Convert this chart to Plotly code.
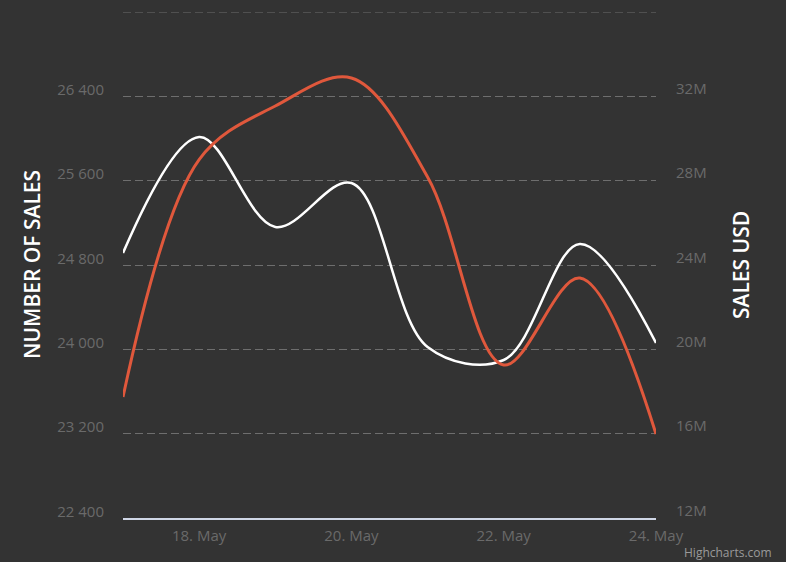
import plotly.graph_objects as go

dates = ["2024-05-17", "2024-05-18", "2024-05-19", "2024-05-20",
         "2024-05-21", "2024-05-22", "2024-05-23", "2024-05-24"]
number_of_sales = [24914, 26014, 25161, 25578, 24022, 23899, 24999, 24060]
sales_usd = [17.74e6, 29.0e6, 31.54e6, 32.87e6, 28.17e6, 19.26e6, 23.38e6, 15.98e6]

left_ticks = [22400, 23200, 24000, 24800, 25600, 26400, 27200]
left_text = ["22 400", "23 200", "24 000", "24 800", "25 600", "26 400", ""]
right_ticks = [12e6, 16e6, 20e6, 24e6, 28e6, 32e6, 36e6]
right_text = ["12M", "16M", "20M", "24M", "28M", "32M", ""]
x_ticks = ["2024-05-18", "2024-05-20", "2024-05-22", "2024-05-24"]
x_text = ["18. May", "20. May", "22. May", "24. May"]

BG = "#333333"
GRID = "#6e6e6e"
LABEL = "#6a6a6a"
FONT = "Open Sans"

fig = go.Figure()
fig.add_trace(go.Scatter(
    x=dates, y=number_of_sales, mode="lines", name="Number of sales",
    line=dict(color="#ffffff", width=2.5, shape="spline", smoothing=1.0),
    yaxis="y", showlegend=False, hoverinfo="skip"))
fig.add_trace(go.Scatter(
    x=dates, y=sales_usd, mode="lines", name="Sales USD",
    line=dict(color="#e0583c", width=3, shape="spline", smoothing=1.0),
    yaxis="y2", showlegend=False, hoverinfo="skip"))

# top gridline (plotly drops the grid line lying on the plot edge)
fig.add_shape(type="line", xref="paper", x0=0, x1=1, yref="y",
              y0=left_ticks[-1], y1=left_ticks[-1],
              line=dict(color=GRID, width=1, dash="8px,4px"), layer="below")

fig.update_layout(
    width=786, height=562,
    paper_bgcolor=BG, plot_bgcolor=BG,
    margin=dict(l=123, r=130, t=12, b=44),
    font=dict(family=FONT, color=LABEL, size=15),
    xaxis=dict(
        range=["2024-05-17", "2024-05-24"], type="date",
        tickvals=x_ticks, ticktext=x_text,
        showgrid=False, zeroline=False,
        showline=True, linecolor="#cfd6e6", linewidth=1.5,
        ticks="", tickfont=dict(size=15, color=LABEL, family=FONT),
        ticklabelstandoff=3,
    ),
    yaxis=dict(
        range=[22400, 27200], tickvals=left_ticks, ticktext=left_text,
        showgrid=True, gridcolor=GRID, gridwidth=1, griddash="8px,4px",
        zeroline=False, showline=False, ticks="",
        ticklabelposition="outside top", ticklabelstandoff=18,
        ticklabelshift=4,
        tickfont=dict(size=15, color=LABEL, family=FONT),
    ),
    yaxis2=dict(
        range=[12e6, 36e6], tickvals=right_ticks, ticktext=right_text,
        overlaying="y", side="right",
        showgrid=False, zeroline=False, showline=False, ticks="",
        ticklabelposition="outside top", ticklabelstandoff=19,
        ticklabelshift=3,
        tickfont=dict(size=15, color=LABEL, family=FONT),
    ),
    annotations=[
        dict(text="NUMBER OF SALES", xref="paper", yref="paper",
             x=0, y=0.5, xanchor="center", yanchor="middle", xshift=-91,
             yshift=-0, textangle=-90, showarrow=False,
             font=dict(size=21, color="#ffffff", family=FONT, weight=600)),
        dict(text="SALES USD", xref="paper", yref="paper",
             x=1, y=0.5, xanchor="center", yanchor="middle", xshift=85,
             textangle=-90, showarrow=False,
             font=dict(size=21, color="#ffffff", family=FONT, weight=600)),
        dict(text="Highcharts.com", xref="paper", yref="paper",
             x=1, y=0, xanchor="right", yanchor="middle",
             xshift=118, yshift=-34, showarrow=False,
             font=dict(size=12, color="#9a9a9a", family=FONT)),
    ],
)

fig.write_html(
    "out.html",
    config={"displayModeBar": False},
    post_script="document.body.style.margin='0';document.body.style.background='#333333';",
)
